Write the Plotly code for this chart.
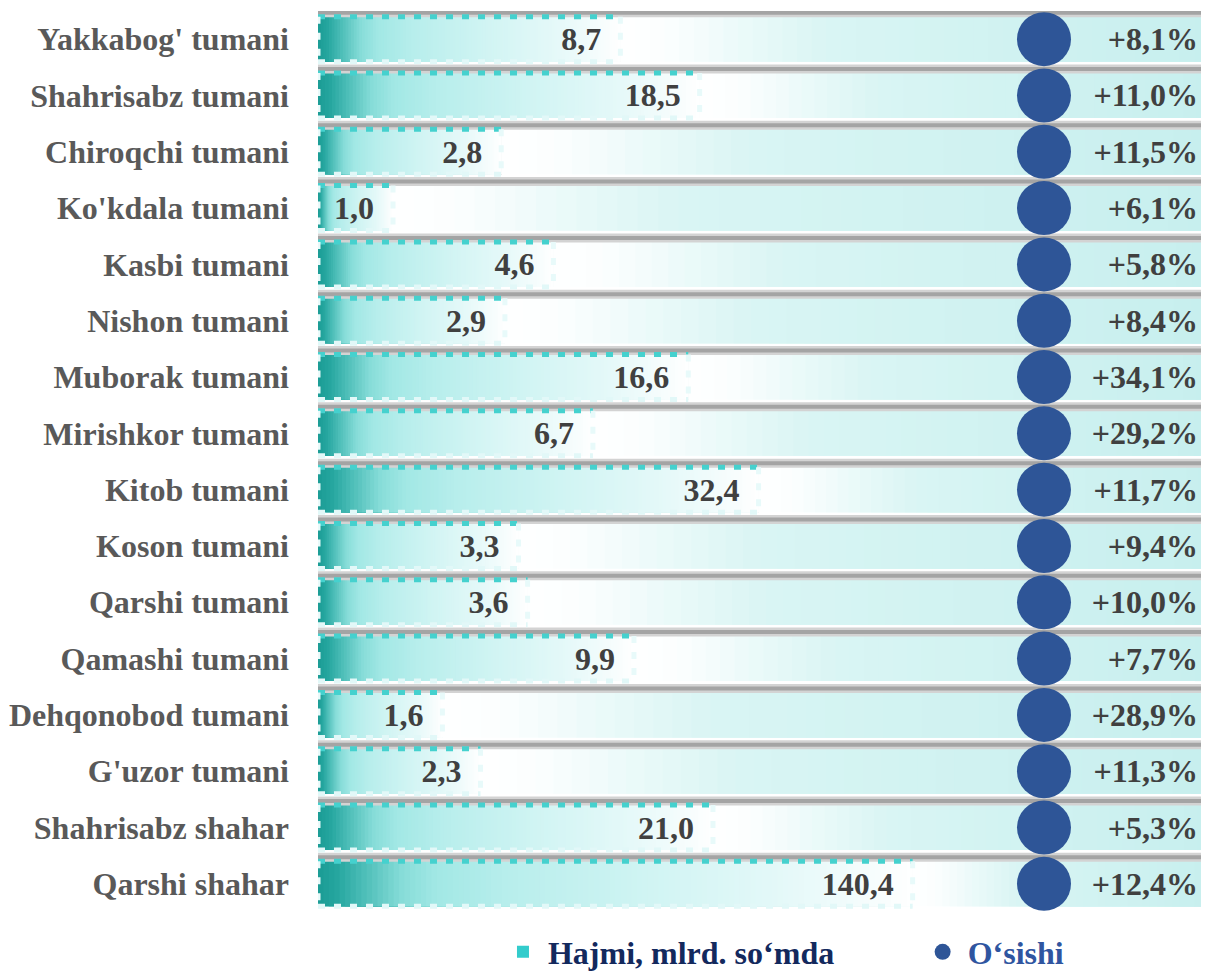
import numpy as np
import plotly.graph_objects as go

# ---------------- data ----------------
categories = ["Yakkabog' tumani", "Shahrisabz tumani", "Chiroqchi tumani", "Ko'kdala tumani",
              "Kasbi tumani", "Nishon tumani", "Muborak tumani", "Mirishkor tumani",
              "Kitob tumani", "Koson tumani", "Qarshi tumani", "Qamashi tumani",
              "Dehqonobod tumani", "G'uzor tumani", "Shahrisabz shahar", "Qarshi shahar"]
volume = [8.7, 18.5, 2.8, 1.0, 4.6, 2.9, 16.6, 6.7, 32.4, 3.3, 3.6, 9.9, 1.6, 2.3, 21.0, 140.4]
growth = [8.1, 11.0, 11.5, 6.1, 5.8, 8.4, 34.1, 29.2, 11.7, 9.4, 10.0, 7.7, 28.9, 11.3, 5.3, 12.4]
series_volume = "Hajmi, mlrd. so‘mda"
series_growth = "O‘sishi"

# ---------------- styling ----------------
FONT = "Liberation Serif"
FS = 32
LOG_MIN, LOG_MAX = -0.3099, 3.3719
BAR_W = 0.8
NBSP = "\u00a0"

idx = list(range(len(categories)))
vol = np.array(volume, dtype=float)
lv = np.log10(vol)
base_val = 10 ** LOG_MIN
max_val = 10 ** LOG_MAX


def hex2rgb(h):
    h = h.lstrip("#")
    return np.array([int(h[i:i + 2], 16) for i in (0, 2, 4)], dtype=float)


def grad(stops, f):
    for (f0, c0), (f1, c1) in zip(stops[:-1], stops[1:]):
        if f0 <= f <= f1:
            t = 0 if f1 == f0 else (f - f0) / (f1 - f0)
            c = hex2rgb(c0) * (1 - t) + hex2rgb(c1) * t
            return "rgb(%d,%d,%d)" % tuple(np.round(c))
    return stops[-1][1]


bar_stops = [(0.0, "#1b9c95"), (0.03, "#24a59e"), (0.08, "#4fbfb9"), (0.14, "#86dcd8"),
             (0.2, "#a2e8e5"), (0.32, "#b8eeec"), (0.55, "#d0f4f3"), (0.8, "#e6f9f9"),
             (0.95, "#f8fdfd"), (1.0, "#ffffff")]
bg_stops = [(0.0, "#ffffff"), (0.08, "#fbfefe"), (0.35, "#d9f5f4"), (1.0, "#c7efee")]

fig = go.Figure()

# legend-carrying base bar (covered by gradient segments)
fig.add_trace(go.Bar(y=idx, x=vol - base_val, base=[base_val] * len(idx), orientation="h",
                     width=BAR_W, marker=dict(color="#33cccc", line=dict(width=0)),
                     name=series_volume, legend="legend",
                     showlegend=True, hoverinfo="skip"))

# background gradient right of each bar
J = 40
for j in range(J):
    f = j / J
    starts = 10 ** (lv + (LOG_MAX - lv) * f)
    fig.add_trace(go.Bar(y=idx, x=max_val - starts, base=starts, orientation="h",
                         width=BAR_W, marker=dict(color=grad(bg_stops, f + 0.5 / J), line=dict(width=0)),
                         showlegend=False, hoverinfo="skip"))

# value bar gradient
K = 110
for k in range(K):
    f = k / K
    starts = 10 ** (LOG_MIN + (lv - LOG_MIN) * f)
    fig.add_trace(go.Bar(y=idx, x=vol - starts, base=starts, orientation="h",
                         width=BAR_W, marker=dict(color=grad(bar_stops, f + 0.5 / K), line=dict(width=0)),
                         showlegend=False, hoverinfo="skip"))

# value labels
fig.add_trace(go.Bar(y=idx, x=vol - base_val, base=[base_val] * len(idx), orientation="h",
                     width=BAR_W, marker=dict(color="rgba(0,0,0,0)", line=dict(width=0)),
                     text=[("%.1f" % v).replace(".", ",") + NBSP * 2 for v in volume],
                     textposition="inside", insidetextanchor="end", constraintext="none",
                     textfont=dict(family=FONT, size=FS, color="#404040", weight="bold"),
                     showlegend=False, hoverinfo="skip"))

# growth labels
fig.add_trace(go.Bar(y=idx, x=[max_val - base_val] * len(idx), base=[base_val] * len(idx), orientation="h",
                     width=BAR_W, marker=dict(color="rgba(0,0,0,0)", line=dict(width=0)),
                     text=["+" + ("%.1f" % g).replace(".", ",") + "%" + NBSP for g in growth],
                     textposition="inside", insidetextanchor="end", constraintext="none",
                     textfont=dict(family=FONT, size=FS, color="#404040", weight="bold"),
                     showlegend=False, hoverinfo="skip"))


def seg_lines(x0s, x1s, ys):
    xs, yy = [], []
    for a, b, y in zip(x0s, x1s, ys):
        xs += [a, b, None]
        yy += [y, y, None]
    return xs, yy


top = [i - BAR_W / 2 for i in idx]
bot = [i + BAR_W / 2 for i in idx]

# gray shadow line on top of each row
gx, gy = seg_lines([base_val] * len(idx), [max_val] * len(idx), [t - 0.071 for t in top])
fig.add_trace(go.Scatter(x=gx, y=gy, mode="lines", line=dict(color="#d3d3d3", width=9),
                         showlegend=False, hoverinfo="skip"))
fig.add_trace(go.Scatter(x=gx, y=gy, mode="lines", line=dict(color="#a4a4a4", width=4),
                         showlegend=False, hoverinfo="skip"))

# dashed borders around value bars
tx, ty = seg_lines([base_val] * len(idx), vol, top)
fig.add_trace(go.Scatter(x=tx, y=ty, mode="lines", line=dict(color="#45d1ce", width=5, dash="7px,9px"),
                         showlegend=False, hoverinfo="skip"))
bx, by = seg_lines([base_val] * len(idx), vol, bot)
fig.add_trace(go.Scatter(x=bx, y=by, mode="lines", line=dict(color="#e2f8f8", width=5, dash="7px,9px"),
                         showlegend=False, hoverinfo="skip"))
sx, sy = [], []
for i, v in zip(idx, vol):
    sx += [base_val, base_val, None, v, v, None]
    sy += [top[i], bot[i], None, top[i], bot[i], None]
fig.add_trace(go.Scatter(x=sx, y=sy, mode="lines", line=dict(color="#e8fafa", width=5, dash="7px,9px"),
                         showlegend=False, hoverinfo="skip"))

# growth dots
fig.add_trace(go.Scatter(x=[series_growth] * len(idx), y=idx, xaxis="x2", mode="markers",
                         marker=dict(size=54, color="#2e5597", line=dict(width=0)),
                         name=series_growth, legend="legend2",
                         showlegend=True, hoverinfo="skip"))

# page body has an 8px margin: figure is offset so the plot lines up with the window
fig.update_layout(
    width=1201, height=971,
    margin=dict(l=310, r=0, t=3, b=67, autoexpand=False),
    paper_bgcolor="white", plot_bgcolor="white",
    barmode="overlay",
    font=dict(family=FONT, size=FS, color="#595959", weight="bold"),
    xaxis=dict(type="log", range=[LOG_MIN, LOG_MAX], visible=False, showgrid=False, zeroline=False),
    xaxis2=dict(type="category", overlaying="x", range=[-0.8148, 0.1852], visible=False),
    yaxis=dict(range=[len(idx) - 0.5, -0.5], tickvals=idx, ticktext=categories, showgrid=False,
               zeroline=False, ticks="", ticklabelstandoff=28, automargin=False,
               tickfont=dict(family=FONT, size=FS, color="#595959", weight="bold")),
    legend=dict(orientation="h", x=0.202, xanchor="left", y=-0.0444, yanchor="middle",
                font=dict(family=FONT, size=FS, color="#13295d", weight="bold"),
                itemwidth=40, bgcolor="rgba(0,0,0,0)"),
    legend2=dict(orientation="h", x=0.673, xanchor="left", y=-0.0444, yanchor="middle",
                 font=dict(family=FONT, size=FS, color="#2f55a0", weight="bold"),
                 itemwidth=40, bgcolor="rgba(0,0,0,0)"),
    showlegend=True,
)

fig.write_html("out.html")
